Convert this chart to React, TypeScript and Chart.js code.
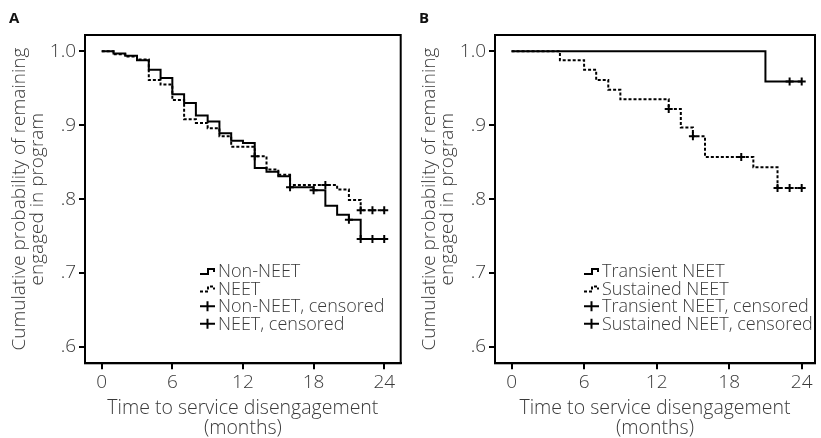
import React, { useEffect, useRef } from 'react';
import { Chart, registerables } from 'chart.js';

Chart.register(...registerables);

// ---------- shared axis data ----------
const monthTicks = [0, 6, 12, 18, 24];
const probTicks = [0.6, 0.7, 0.8, 0.9, 1.0];
const probTickLabels = ['.6', '.7', '.8', '.9', '1.0'];

// ---------- Panel A ----------
const nonNeetTimes = [0, 1, 2, 3, 4, 5, 6, 7, 8, 9, 10, 11, 12, 13, 14, 15, 16, 18, 19, 20, 21, 22, 24];
const nonNeetSurv = [1, 0.997, 0.994, 0.988, 0.975, 0.964, 0.942, 0.930, 0.913, 0.905, 0.889, 0.879, 0.876, 0.842, 0.837, 0.831, 0.816, 0.812, 0.791, 0.779, 0.772, 0.746, 0.746];
const nonNeetCensTimes = [16, 18, 21, 22, 23, 24];
const nonNeetCensSurv = [0.816, 0.812, 0.772, 0.746, 0.746, 0.746];

const neetTimes = [0, 1, 2, 3, 4, 5, 6, 7, 8, 9, 10, 11, 13, 14, 15, 16, 20, 21, 22, 24];
const neetSurv = [1, 0.996, 0.993, 0.989, 0.961, 0.955, 0.934, 0.908, 0.903, 0.896, 0.885, 0.871, 0.858, 0.840, 0.833, 0.819, 0.813, 0.799, 0.785, 0.785];
const neetCensTimes = [13, 19, 22, 23, 24];
const neetCensSurv = [0.858, 0.819, 0.785, 0.785, 0.785];

const legendA = ['Non-NEET', 'NEET', 'Non-NEET, censored', 'NEET, censored'];

// ---------- Panel B ----------
const transTimes = [0, 21, 24];
const transSurv = [1, 0.959, 0.959];
const transCensTimes = [23, 24];
const transCensSurv = [0.959, 0.959];

const sustTimes = [0, 4, 6, 7, 8, 9, 13, 14, 15, 16, 20, 22, 24];
const sustSurv = [1, 0.988, 0.975, 0.961, 0.948, 0.935, 0.922, 0.897, 0.885, 0.857, 0.843, 0.815, 0.815];
const sustCensTimes = [13, 15, 19, 22, 23, 24];
const sustCensSurv = [0.922, 0.885, 0.857, 0.815, 0.815, 0.815];

const legendB = ['Transient NEET', 'Sustained NEET', 'Transient NEET, censored', 'Sustained NEET, censored'];

const yTitle = ['Cumulative probability of remaining', 'engaged in program'];
const xTitle = ['Time to service disengagement', '(months)'];

const FONT = "'Open Sans', 'DejaVu Sans', sans-serif";
const TEXT = '#3a3a3a';

const pts = (xs: number[], ys: number[]) => xs.map((x, i) => ({ x, y: ys[i] }));

const framePlugin = {
  id: 'frame',
  afterDraw(chart: any) {
    const { ctx, chartArea: a } = chart;
    ctx.save();
    ctx.strokeStyle = '#000';
    ctx.lineWidth = 2;
    ctx.strokeRect(a.left, a.top, a.right - a.left, a.bottom - a.top);
    ctx.restore();
  },
};

const kmLegendPlugin = {
  id: 'kmLegend',
  afterDraw(chart: any, _args: any, opts: any) {
    if (!opts || !opts.items) return;
    const { ctx } = chart;
    ctx.save();
    ctx.font = `300 ${opts.fontSize}px ${FONT}`;
    ctx.textBaseline = 'middle';
    ctx.textAlign = 'left';
    opts.items.forEach((it: any, i: number) => {
      const x = opts.x;
      const y = opts.y + i * opts.rowHeight;
      ctx.strokeStyle = '#000';
      ctx.lineWidth = 2;
      ctx.setLineDash(it.kind === 'dashed' ? [3, 2] : []);
      ctx.beginPath();
      if (it.kind === 'censor') {
        ctx.moveTo(x, y);
        ctx.lineTo(x + 15, y);
        ctx.moveTo(x + 7.5, y - 5);
        ctx.lineTo(x + 7.5, y + 5);
      } else {
        ctx.moveTo(x, y + 3);
        ctx.lineTo(x + 8, y + 3);
        ctx.lineTo(x + 8, y - 2);
        ctx.lineTo(x + 14, y - 2);
        ctx.lineTo(x + 14, y + 1);
      }
      ctx.stroke();
      ctx.setLineDash([]);
      ctx.fillStyle = TEXT;
      ctx.fillText(it.label, x + 18, y + 1);
    });
    ctx.restore();
  },
};

type PanelCfg = {
  lines: { data: { x: number; y: number }[]; dashed: boolean }[];
  cens: { x: number; y: number }[][];
  legend: string[];
  xMin: number;
  xMax: number;
  padRight: number;
  legendX: number;
};

function buildConfig(p: PanelCfg): any {
  const datasets: any[] = [];
  p.lines.forEach((l) => {
    datasets.push({
      type: 'line',
      data: l.data,
      stepped: 'before',
      borderColor: '#000',
      borderWidth: 2,
      borderDash: l.dashed ? [3, 2] : [],
      pointRadius: 0,
      fill: false,
    });
  });
  p.cens.forEach((c) => {
    datasets.push({
      type: 'scatter',
      data: c,
      pointStyle: 'cross',
      pointRadius: 4,
      borderWidth: 2,
      borderColor: '#000',
      backgroundColor: '#000',
    });
  });
  return {
    type: 'line',
    data: { datasets },
    plugins: [framePlugin, kmLegendPlugin],
    options: {
      responsive: false,
      animation: false,
      devicePixelRatio: 1,
      layout: { padding: { top: 35, right: p.padRight, left: 0, bottom: 0 } },
      plugins: {
        legend: { display: false },
        tooltip: { enabled: false },
        kmLegend: {
          x: p.legendX,
          y: 271,
          rowHeight: 17.6,
          fontSize: 18,
          items: [
            { label: p.legend[0], kind: 'solid' },
            { label: p.legend[1], kind: 'dashed' },
            { label: p.legend[2], kind: 'censor' },
            { label: p.legend[3], kind: 'censor' },
          ],
        },
      },
      scales: {
        x: {
          type: 'linear',
          min: p.xMin,
          max: p.xMax,
          afterBuildTicks: (s: any) => {
            s.ticks = monthTicks.map((v) => ({ value: v }));
          },
          afterFit: (s: any) => {
            s.height = 438 - 363.3;
          },
          ticks: {
            font: { family: FONT, size: 19, weight: 300 },
            color: TEXT,
            padding: 2,
            maxRotation: 0,
            callback: (v: any) => String(v),
          },
          grid: { display: true, drawOnChartArea: false, drawTicks: true, tickLength: 6, color: '#000', lineWidth: 2 },
          border: { display: true, color: '#000', width: 2 },
          title: {
            display: true,
            text: xTitle,
            color: TEXT,
            font: { family: FONT, size: 19.5, weight: 300, lineHeight: 20 / 19.5 },
            padding: { top: 0, bottom: 0 },
          },
        },
        y: {
          type: 'linear',
          min: 0.578,
          max: 1.022,
          afterBuildTicks: (s: any) => {
            s.ticks = probTicks.map((v) => ({ value: v }));
          },
          afterFit: (s: any) => {
            s.width = 85;
          },
          ticks: {
            font: { family: FONT, size: 19, weight: 300 },
            color: TEXT,
            padding: 3,
            callback: (v: any) => {
              const i = probTicks.findIndex((t) => Math.abs(t - v) < 1e-6);
              return i >= 0 ? probTickLabels[i] : '';
            },
          },
          grid: { display: true, drawOnChartArea: false, drawTicks: true, tickLength: 6, color: '#000', lineWidth: 2 },
          border: { display: true, color: '#000', width: 2 },
          title: {
            display: true,
            text: yTitle,
            color: TEXT,
            font: { family: FONT, size: 19, weight: 300, lineHeight: 18 / 19 },
            padding: { top: 11, bottom: 0 },
          },
        },
      },
    },
  };
}

function Panel({ cfg, width, left, label }: { cfg: PanelCfg; width: number; left: number; label: string }) {
  const ref = useRef<HTMLCanvasElement | null>(null);
  useEffect(() => {
    if (!ref.current) return;
    const chart = new Chart(ref.current, buildConfig(cfg));
    return () => chart.destroy();
  }, []);
  return (
    <div style={{ position: 'absolute', left, top: 0, width, height: 438 }}>
      <canvas ref={ref} width={width} height={438} style={{ width, height: 438, display: 'block' }} />
      <div
        style={{
          position: 'absolute',
          left: 9,
          top: 9,
          fontFamily: FONT,
          fontWeight: 700,
          fontSize: 15,
          color: '#111',
          lineHeight: '17px',
        }}
      >
        {label}
      </div>
    </div>
  );
}

const panelA: PanelCfg = {
  lines: [
    { data: pts(nonNeetTimes, nonNeetSurv), dashed: false },
    { data: pts(neetTimes, neetSurv), dashed: true },
  ],
  cens: [pts(nonNeetCensTimes, nonNeetCensSurv), pts(neetCensTimes, neetCensSurv)],
  legend: legendA,
  xMin: -1.42,
  xMax: 25.4,
  padRight: 410 - 400.7,
  legendX: 200,
};

const panelB: PanelCfg = {
  lines: [
    { data: pts(transTimes, transSurv), dashed: false },
    { data: pts(sustTimes, sustSurv), dashed: true },
  ],
  cens: [pts(transCensTimes, transCensSurv), pts(sustCensTimes, sustCensSurv)],
  legend: legendB,
  xMin: -1.37,
  xMax: 25.1,
  padRight: 2,
  legendX: 174,
};

export default function App() {
  return (
    <div style={{ position: 'fixed', left: 0, top: 0, width: 821, height: 438, background: '#fff', overflow: 'hidden' }}>
      <Panel cfg={panelA} width={410} left={0} label="A" />
      <Panel cfg={panelB} width={411} left={410} label="B" />
    </div>
  );
}
